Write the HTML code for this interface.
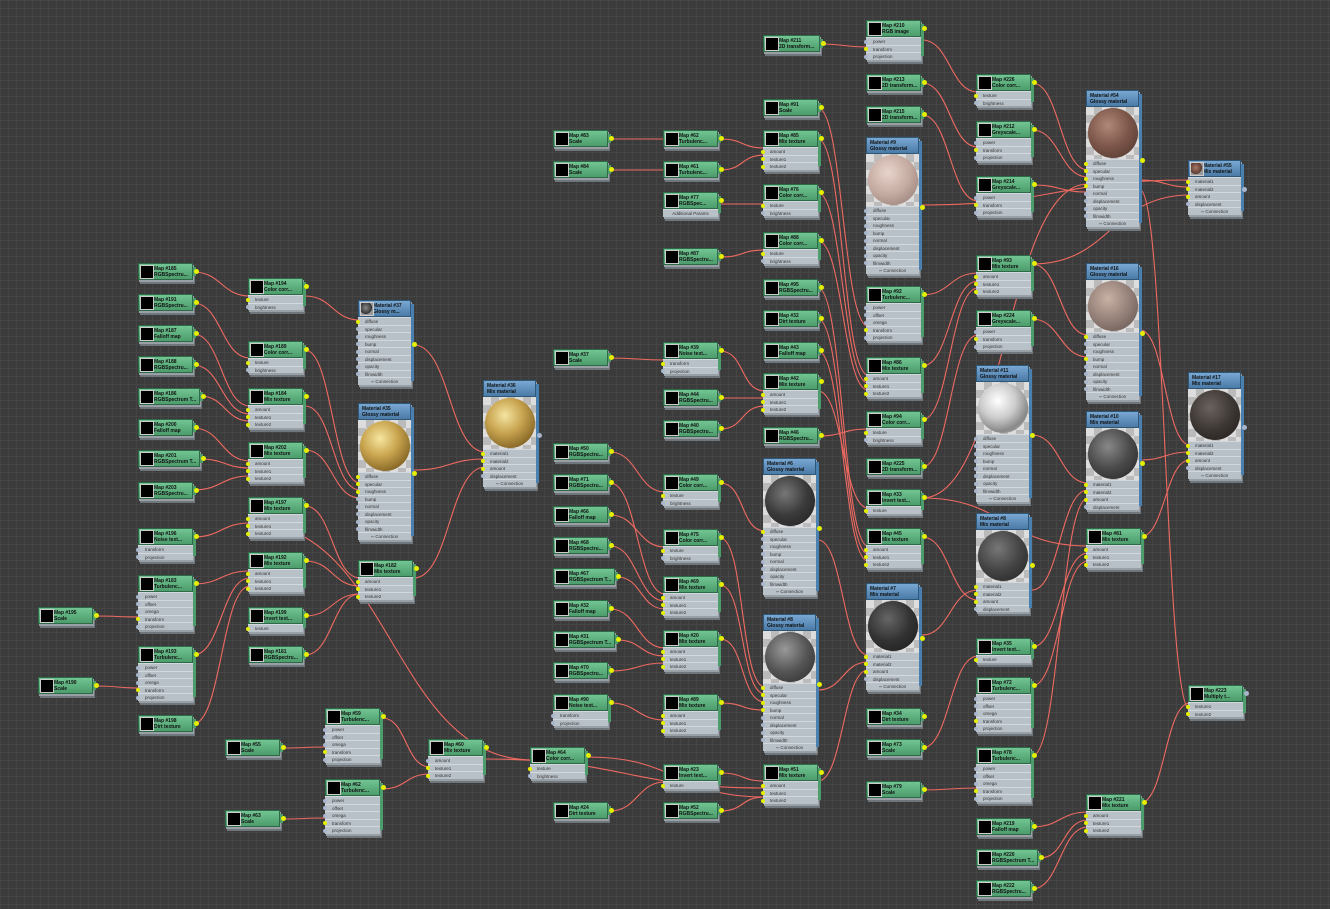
<!DOCTYPE html>
<html><head><meta charset="utf-8"><style>
body{margin:0;width:1330px;height:909px;overflow:hidden;background:#3b3b3b;background-image:linear-gradient(90deg,#454545 1px,transparent 1px),linear-gradient(#454545 1px,transparent 1px);background-size:8px 8px;position:relative}
.n{position:absolute;width:55px;font:bold 5px "Liberation Sans",sans-serif;color:#111;box-shadow:1px 2px 0 #98a0a6,2px 4px 0 #6f777d;background:#b9c1c8}
.n:after{content:"";position:absolute;right:-3px;top:4px;bottom:4px;width:3px;background:#4c9c6c}
.t:after{background:#4a80b0}
.h{height:17px;background:linear-gradient(#72c492,#4c9c6c);border:1px solid #2e6a48;box-sizing:border-box;position:relative;padding:2px 0 0 15px;line-height:6px;white-space:nowrap;overflow:hidden}
.h i{position:absolute;left:1px;top:1px;width:12px;height:12px;background:#000;border:1px solid #ccc}
.t{width:53px}
.t .h{background:linear-gradient(#78a8d2,#4a7aa6);border-color:#2f5878;padding-left:3px}
.t .h.ic{padding-left:14px}
.t .h.ic i{background:radial-gradient(circle at 40% 40%,#888,#333 60%,#999 62%)}
.n p{margin:0;height:7.5px;line-height:7px;border-top:1px solid #d2d8dd;box-sizing:border-box;padding-left:7px;font-weight:normal;font-size:4.5px;color:#333;position:relative}
.n p:before{content:"";position:absolute;left:-2px;top:1.5px;width:4px;height:4px;border-radius:50%;background:#a9b6cc}
.n p.y:before{background:#e4f000}
.n p.c{text-align:center;padding:0}.n p.c:before{display:none}
.n s{position:absolute;right:-6px;top:6px;width:5px;height:5px;border-radius:50%;background:#e4f000;z-index:2}
.t s{top:50%}
.pv{height:52px;background:#ddd;background-image:linear-gradient(45deg,#bbb 25%,transparent 25%,transparent 75%,#bbb 75%),linear-gradient(45deg,#bbb 25%,transparent 25%,transparent 75%,#bbb 75%);background-size:16px 16px;background-position:0 0,8px 8px;position:relative}
.pv b{position:absolute;left:2px;top:1px;width:50px;height:50px;border-radius:50%}
svg{position:absolute;left:0;top:0}
</style></head><body>
<svg width="1330" height="909" id="w"><g fill="none" stroke="#f06a62" stroke-width="1.1" id="g"></g></svg>

<!-- column A -->
<div class="n" style="left:38px;top:607px"><div class="h"><i></i>Map #195<br>Scale</div><s></s></div>
<div class="n" style="left:38px;top:677px"><div class="h"><i></i>Map #190<br>Scale</div><s></s></div>
<!-- column B -->
<div class="n" style="left:138px;top:263px"><div class="h"><i></i>Map #185<br>RGBSpectru...</div><s></s></div>
<div class="n" style="left:138px;top:294px"><div class="h"><i></i>Map #191<br>RGBSpectru...</div><s></s></div>
<div class="n" style="left:138px;top:325px"><div class="h"><i></i>Map #187<br>Falloff map</div><s></s></div>
<div class="n" style="left:138px;top:356px"><div class="h"><i></i>Map #188<br>RGBSpectru...</div><s></s></div>
<div class="n" style="left:138px;top:388px;width:62px"><div class="h"><i></i>Map #186<br>RGBSpectrum T...</div><s></s></div>
<div class="n" style="left:138px;top:419px"><div class="h"><i></i>Map #200<br>Falloff map</div><s></s></div>
<div class="n" style="left:138px;top:450px;width:62px"><div class="h"><i></i>Map #201<br>RGBSpectrum T...</div><s></s></div>
<div class="n" style="left:138px;top:482px"><div class="h"><i></i>Map #203<br>RGBSpectru...</div><s></s></div>
<div class="n" style="left:138px;top:528px"><div class="h"><i></i>Map #196<br>Noise text...</div><p>transform</p><p>projection</p><s></s></div>
<div class="n" style="left:138px;top:575px"><div class="h"><i></i>Map #183<br>Turbulenc...</div><p>power</p><p>offset</p><p>omega</p><p class="y">transform</p><p>projection</p><s></s></div>
<div class="n" style="left:138px;top:646px"><div class="h"><i></i>Map #193<br>Turbulenc...</div><p>power</p><p>offset</p><p>omega</p><p class="y">transform</p><p>projection</p><s></s></div>
<div class="n" style="left:138px;top:715px"><div class="h"><i></i>Map #198<br>Dirt texture</div><s></s></div>
<!-- column C -->
<div class="n" style="left:248px;top:278px"><div class="h"><i></i>Map #194<br>Color corr...</div><p class="y">texture</p><p>brightness</p><s></s></div>
<div class="n" style="left:248px;top:341px"><div class="h"><i></i>Map #189<br>Color corr...</div><p class="y">texture</p><p>brightness</p><s></s></div>
<div class="n" style="left:248px;top:388px"><div class="h"><i></i>Map #184<br>Mix texture</div><p class="y">amount</p><p class="y">texture1</p><p class="y">texture2</p><s></s></div>
<div class="n" style="left:248px;top:442px"><div class="h"><i></i>Map #202<br>Mix texture</div><p class="y">amount</p><p class="y">texture1</p><p class="y">texture2</p><s></s></div>
<div class="n" style="left:248px;top:497px"><div class="h"><i></i>Map #197<br>Mix texture</div><p class="y">amount</p><p class="y">texture1</p><p class="y">texture2</p><s></s></div>
<div class="n" style="left:248px;top:552px"><div class="h"><i></i>Map #192<br>Mix texture</div><p class="y">amount</p><p class="y">texture1</p><p class="y">texture2</p><s></s></div>
<div class="n" style="left:248px;top:607px"><div class="h"><i></i>Map #199<br>Invert text...</div><p class="y">texture</p><s></s></div>
<div class="n" style="left:248px;top:646px"><div class="h"><i></i>Map #181<br>RGBSpectru...</div><s></s></div>
<!-- column D -->
<div class="n t" style="left:358px;top:300px"><div class="h ic"><i></i>Material #37<br>Glossy m...</div><p class="y">diffuse</p><p>specular</p><p>roughness</p><p>bump</p><p>normal</p><p>displacement</p><p>opacity</p><p>filmwidth</p><p class="c">▫▫ Connection</p><s></s></div>
<div class="n t" style="left:358px;top:403px"><div class="h">Material #35<br>Glossy material</div><div class="pv"><b style="background:radial-gradient(circle at 40% 35%,#f6e6a0,#caa650 40%,#8a6a28 75%,#5a4418)"></b></div><p class="y">diffuse</p><p class="y">specular</p><p class="y">roughness</p><p>bump</p><p>normal</p><p>displacement</p><p>opacity</p><p>filmwidth</p><p class="c">▫▫ Connection</p><s></s></div>
<div class="n" style="left:358px;top:560px"><div class="h"><i></i>Map #182<br>Mix texture</div><p class="y">amount</p><p class="y">texture1</p><p class="y">texture2</p><s></s></div>
<!-- E -->
<div class="n t" style="left:483px;top:380px"><div class="h">Material #36<br>Mix material</div><div class="pv"><b style="background:radial-gradient(circle at 40% 35%,#f4e4a0,#c8a450 40%,#8a6a28 75%,#5a4418)"></b></div><p class="y">material1</p><p class="y">material2</p><p class="y">amount</p><p>displacement</p><p class="c">▫▫ Connection</p><s style="background:#a9b6cc"></s></div>
<!-- lower left -->
<div class="n" style="left:225px;top:739px"><div class="h"><i></i>Map #55<br>Scale</div><s></s></div>
<div class="n" style="left:225px;top:810px"><div class="h"><i></i>Map #63<br>Scale</div><s></s></div>
<div class="n" style="left:325px;top:708px"><div class="h"><i></i>Map #59<br>Turbulenc...</div><p>power</p><p>offset</p><p>omega</p><p class="y">transform</p><p>projection</p><s></s></div>
<div class="n" style="left:325px;top:779px"><div class="h"><i></i>Map #62<br>Turbulenc...</div><p>power</p><p>offset</p><p>omega</p><p class="y">transform</p><p>projection</p><s></s></div>
<div class="n" style="left:428px;top:739px"><div class="h"><i></i>Map #60<br>Mix texture</div><p>amount</p><p class="y">texture1</p><p class="y">texture2</p><s></s></div>
<div class="n" style="left:530px;top:747px"><div class="h"><i></i>Map #64<br>Color corr...</div><p class="y">texture</p><p>brightness</p><s></s></div>
<!-- F -->
<div class="n" style="left:553px;top:130px"><div class="h"><i></i>Map #83<br>Scale</div><s></s></div>
<div class="n" style="left:553px;top:161px"><div class="h"><i></i>Map #84<br>Scale</div><s></s></div>
<div class="n" style="left:553px;top:349px"><div class="h"><i></i>Map #37<br>Scale</div><s></s></div>
<div class="n" style="left:553px;top:443px"><div class="h"><i></i>Map #50<br>RGBSpectru...</div><s></s></div>
<div class="n" style="left:553px;top:474px"><div class="h"><i></i>Map #71<br>RGBSpectru...</div><s></s></div>
<div class="n" style="left:553px;top:506px"><div class="h"><i></i>Map #66<br>Falloff map</div><s></s></div>
<div class="n" style="left:553px;top:537px"><div class="h"><i></i>Map #68<br>RGBSpectru...</div><s></s></div>
<div class="n" style="left:553px;top:568px;width:62px"><div class="h"><i></i>Map #67<br>RGBSpectrum T...</div><s></s></div>
<div class="n" style="left:553px;top:600px"><div class="h"><i></i>Map #32<br>Falloff map</div><s></s></div>
<div class="n" style="left:553px;top:631px;width:62px"><div class="h"><i></i>Map #31<br>RGBSpectrum T...</div><s></s></div>
<div class="n" style="left:553px;top:662px"><div class="h"><i></i>Map #70<br>RGBSpectru...</div><s></s></div>
<div class="n" style="left:553px;top:694px"><div class="h"><i></i>Map #90<br>Noise text...</div><p>transform</p><p>projection</p><s></s></div>
<div class="n" style="left:553px;top:802px"><div class="h"><i></i>Map #24<br>Dirt texture</div><s></s></div>
<!-- G -->
<div class="n" style="left:663px;top:130px"><div class="h"><i></i>Map #62<br>Turbulenc...</div><s></s></div>
<div class="n" style="left:663px;top:161px"><div class="h"><i></i>Map #61<br>Turbulenc...</div><s></s></div>
<div class="n" style="left:663px;top:192px"><div class="h"><i></i>Map #77<br>RGBSpec...</div><p class="c">Additional Params</p><s></s></div>
<div class="n" style="left:663px;top:248px"><div class="h"><i></i>Map #87<br>RGBSpectru...</div><s></s></div>
<div class="n" style="left:663px;top:342px"><div class="h"><i></i>Map #39<br>Noise text...</div><p class="y">transform</p><p>projection</p><s></s></div>
<div class="n" style="left:663px;top:389px"><div class="h"><i></i>Map #44<br>RGBSpectru...</div><s></s></div>
<div class="n" style="left:663px;top:420px"><div class="h"><i></i>Map #40<br>RGBSpectru...</div><s></s></div>
<div class="n" style="left:663px;top:474px"><div class="h"><i></i>Map #49<br>Color corr...</div><p class="y">texture</p><p>brightness</p><s></s></div>
<div class="n" style="left:663px;top:529px"><div class="h"><i></i>Map #75<br>Color corr...</div><p class="y">texture</p><p>brightness</p><s></s></div>
<div class="n" style="left:663px;top:576px"><div class="h"><i></i>Map #69<br>Mix texture</div><p class="y">amount</p><p class="y">texture1</p><p class="y">texture2</p><s></s></div>
<div class="n" style="left:663px;top:630px"><div class="h"><i></i>Map #20<br>Mix texture</div><p class="y">amount</p><p class="y">texture1</p><p class="y">texture2</p><s></s></div>
<div class="n" style="left:663px;top:694px"><div class="h"><i></i>Map #89<br>Mix texture</div><p class="y">amount</p><p class="y">texture1</p><p class="y">texture2</p><s></s></div>
<div class="n" style="left:663px;top:764px"><div class="h"><i></i>Map #23<br>Invert text...</div><p class="y">texture</p><s></s></div>
<div class="n" style="left:663px;top:802px"><div class="h"><i></i>Map #52<br>RGBSpectru...</div><s></s></div>
<!-- H -->
<div class="n" style="left:763px;top:35px;width:57px"><div class="h"><i></i>Map #211<br>2D transform...</div><s></s></div>
<div class="n" style="left:763px;top:99px"><div class="h"><i></i>Map #91<br>Scale</div><s></s></div>
<div class="n" style="left:763px;top:130px"><div class="h"><i></i>Map #85<br>Mix texture</div><p class="y">amount</p><p class="y">texture1</p><p class="y">texture2</p><s></s></div>
<div class="n" style="left:763px;top:184px"><div class="h"><i></i>Map #76<br>Color corr...</div><p class="y">texture</p><p>brightness</p><s></s></div>
<div class="n" style="left:763px;top:232px"><div class="h"><i></i>Map #88<br>Color corr...</div><p class="y">texture</p><p>brightness</p><s></s></div>
<div class="n" style="left:763px;top:279px"><div class="h"><i></i>Map #95<br>RGBSpectru...</div><s></s></div>
<div class="n" style="left:763px;top:310px"><div class="h"><i></i>Map #32<br>Dirt texture</div><s></s></div>
<div class="n" style="left:763px;top:342px"><div class="h"><i></i>Map #43<br>Falloff map</div><s></s></div>
<div class="n" style="left:763px;top:373px"><div class="h"><i></i>Map #42<br>Mix texture</div><p class="y">amount</p><p class="y">texture1</p><p class="y">texture2</p><s></s></div>
<div class="n" style="left:763px;top:427px"><div class="h"><i></i>Map #46<br>RGBSpectru...</div><s></s></div>
<div class="n t" style="left:763px;top:458px"><div class="h">Material #6<br>Glossy material</div><div class="pv"><b style="background:radial-gradient(circle at 40% 35%,#777,#3a3a3a 50%,#1e1e1e)"></b></div><p class="y">diffuse</p><p>specular</p><p>roughness</p><p>bump</p><p>normal</p><p>displacement</p><p>opacity</p><p>filmwidth</p><p class="c">▫▫ Connection</p><s></s></div>
<div class="n t" style="left:763px;top:614px"><div class="h">Material #8<br>Glossy material</div><div class="pv"><b style="background:radial-gradient(circle at 40% 35%,#999,#555 50%,#2a2a2a)"></b></div><p class="y">diffuse</p><p class="y">specular</p><p class="y">roughness</p><p class="y">bump</p><p>normal</p><p>displacement</p><p>opacity</p><p>filmwidth</p><p class="c">▫▫ Connection</p><s></s></div>
<div class="n" style="left:763px;top:764px"><div class="h"><i></i>Map #51<br>Mix texture</div><p class="y">amount</p><p class="y">texture1</p><p class="y">texture2</p><s></s></div>
<!-- I -->
<div class="n" style="left:866px;top:20px"><div class="h"><i></i>Map #210<br>RGB image</div><p>power</p><p class="y">transform</p><p>projection</p><s></s></div>
<div class="n" style="left:866px;top:74px"><div class="h"><i></i>Map #213<br>2D transform...</div><s></s></div>
<div class="n" style="left:866px;top:106px"><div class="h"><i></i>Map #215<br>2D transform...</div><s></s></div>
<div class="n t" style="left:866px;top:137px"><div class="h">Material #9<br>Glossy material</div><div class="pv"><b style="background:radial-gradient(circle at 40% 35%,#e8d4cc,#c4aaa0 50%,#8a7670)"></b></div><p>diffuse</p><p>specular</p><p>roughness</p><p>bump</p><p>normal</p><p>displacement</p><p>opacity</p><p>filmwidth</p><p class="c">▫▫ Connection</p><s></s></div>
<div class="n" style="left:866px;top:286px"><div class="h"><i></i>Map #92<br>Turbulenc...</div><p>power</p><p>offset</p><p>omega</p><p class="y">transform</p><p>projection</p><s></s></div>
<div class="n" style="left:866px;top:357px"><div class="h"><i></i>Map #86<br>Mix texture</div><p class="y">amount</p><p class="y">texture1</p><p class="y">texture2</p><s></s></div>
<div class="n" style="left:866px;top:411px"><div class="h"><i></i>Map #94<br>Color corr...</div><p class="y">texture</p><p>brightness</p><s></s></div>
<div class="n" style="left:866px;top:458px"><div class="h"><i></i>Map #225<br>2D transform...</div><s></s></div>
<div class="n" style="left:866px;top:489px"><div class="h"><i></i>Map #33<br>Invert text...</div><p class="y">texture</p><s></s></div>
<div class="n" style="left:866px;top:528px"><div class="h"><i></i>Map #45<br>Mix texture</div><p class="y">amount</p><p class="y">texture1</p><p class="y">texture2</p><s></s></div>
<div class="n t" style="left:866px;top:583px"><div class="h">Material #7<br>Mix material</div><div class="pv"><b style="background:radial-gradient(circle at 40% 35%,#666,#333 50%,#1a1a1a)"></b></div><p class="y">material1</p><p class="y">material2</p><p class="y">amount</p><p>displacement</p><p class="c">▫▫ Connection</p><s></s></div>
<div class="n" style="left:866px;top:708px"><div class="h"><i></i>Map #34<br>Dirt texture</div><s></s></div>
<div class="n" style="left:866px;top:739px"><div class="h"><i></i>Map #73<br>Scale</div><s></s></div>
<div class="n" style="left:866px;top:781px"><div class="h"><i></i>Map #79<br>Scale</div><s></s></div>
<!-- J -->
<div class="n" style="left:976px;top:74px"><div class="h"><i></i>Map #226<br>Color corr...</div><p class="y">texture</p><p>brightness</p><s></s></div>
<div class="n" style="left:976px;top:121px"><div class="h"><i></i>Map #212<br>Greyscale...</div><p>power</p><p class="y">transform</p><p>projection</p><s></s></div>
<div class="n" style="left:976px;top:176px"><div class="h"><i></i>Map #214<br>Greyscale...</div><p>power</p><p class="y">transform</p><p>projection</p><s></s></div>
<div class="n" style="left:976px;top:255px"><div class="h"><i></i>Map #93<br>Mix texture</div><p class="y">amount</p><p class="y">texture1</p><p class="y">texture2</p><s></s></div>
<div class="n" style="left:976px;top:310px"><div class="h"><i></i>Map #224<br>Greyscale...</div><p>power</p><p class="y">transform</p><p>projection</p><s></s></div>
<div class="n t" style="left:976px;top:365px"><div class="h">Material #11<br>Glossy material</div><div class="pv"><b style="background:radial-gradient(circle at 40% 35%,#fff,#ccc 40%,#888 70%,#ddd)"></b></div><p>diffuse</p><p>specular</p><p>roughness</p><p>bump</p><p>normal</p><p>displacement</p><p>opacity</p><p>filmwidth</p><p class="c">▫▫ Connection</p><s></s></div>
<div class="n t" style="left:976px;top:513px"><div class="h">Material #8<br>Mix material</div><div class="pv"><b style="background:radial-gradient(circle at 40% 35%,#777,#444 50%,#222)"></b></div><p class="y">material1</p><p class="y">material2</p><p class="y">amount</p><p>displacement</p><s></s></div>
<div class="n" style="left:976px;top:638px"><div class="h"><i></i>Map #35<br>Invert text...</div><p class="y">texture</p><s></s></div>
<div class="n" style="left:976px;top:677px"><div class="h"><i></i>Map #72<br>Turbulenc...</div><p>power</p><p>offset</p><p>omega</p><p class="y">transform</p><p>projection</p><s></s></div>
<div class="n" style="left:976px;top:747px"><div class="h"><i></i>Map #78<br>Turbulenc...</div><p>power</p><p>offset</p><p>omega</p><p class="y">transform</p><p>projection</p><s></s></div>
<div class="n" style="left:976px;top:818px"><div class="h"><i></i>Map #219<br>Falloff map</div><s></s></div>
<div class="n" style="left:976px;top:849px;width:62px"><div class="h"><i></i>Map #220<br>RGBSpectrum T...</div><s></s></div>
<div class="n" style="left:976px;top:880px"><div class="h"><i></i>Map #222<br>RGBSpectru...</div><s></s></div>
<!-- K -->
<div class="n t" style="left:1086px;top:90px"><div class="h">Material #54<br>Glossy material</div><div class="pv"><b style="background:radial-gradient(circle at 40% 35%,#b08878,#7a5448 50%,#4a342c)"></b></div><p class="y">diffuse</p><p class="y">specular</p><p class="y">roughness</p><p class="y">bump</p><p>normal</p><p>displacement</p><p>opacity</p><p>filmwidth</p><p class="c">▫▫ Connection</p><s></s></div>
<div class="n t" style="left:1086px;top:263px"><div class="h">Material #16<br>Glossy material</div><div class="pv"><b style="background:radial-gradient(circle at 40% 35%,#c8b0a4,#948078 50%,#5e504a)"></b></div><p class="y">diffuse</p><p>specular</p><p>roughness</p><p class="y">bump</p><p>normal</p><p>displacement</p><p>opacity</p><p>filmwidth</p><p class="c">▫▫ Connection</p><s></s></div>
<div class="n t" style="left:1086px;top:411px"><div class="h">Material #10<br>Mix material</div><div class="pv"><b style="background:radial-gradient(circle at 40% 35%,#888,#4a4a4a 50%,#222)"></b></div><p class="y">material1</p><p class="y">material2</p><p class="y">amount</p><p>displacement</p><s></s></div>
<div class="n" style="left:1086px;top:528px"><div class="h"><i></i>Map #81<br>Mix texture</div><p class="y">amount</p><p class="y">texture1</p><p class="y">texture2</p><s></s></div>
<div class="n" style="left:1086px;top:794px"><div class="h"><i></i>Map #221<br>Mix texture</div><p class="y">amount</p><p class="y">texture1</p><p class="y">texture2</p><s></s></div>
<!-- L -->
<div class="n t" style="left:1188px;top:160px"><div class="h ic"><i style="background:radial-gradient(circle at 40% 40%,#a87868,#5a3a30 60%,#999 62%)"></i>Material #55<br>Mix material</div><p class="y">material1</p><p class="y">material2</p><p class="y">amount</p><p>displacement</p><p class="c">▫▫ Connection</p><s style="background:#a9b6cc"></s></div>
<div class="n t" style="left:1188px;top:372px"><div class="h">Material #17<br>Mix material</div><div class="pv"><b style="background:radial-gradient(circle at 40% 35%,#6a625e,#3e3834 50%,#1e1a18)"></b></div><p class="y">material1</p><p class="y">material2</p><p class="y">amount</p><p>displacement</p><p class="c">▫▫ Connection</p><s style="background:#a9b6cc"></s></div>
<div class="n" style="left:1188px;top:685px"><div class="h"><i></i>Map #223<br>Multiply t...</div><p class="y">texture1</p><p class="y">texture2</p><s style="background:#a9b6cc"></s></div>

<script>
var W=[[193,272,250,296],[193,303,250,358],[193,334,250,406],[193,365,250,414],[200,396,250,421],[193,428,250,461],[200,459,250,468],[193,490,250,476],[193,537,250,523],[193,584,250,571],[193,655,250,578],[193,724,250,586],[95,616,140,617],[95,686,140,688],
[305,296,360,320],[305,350,360,483],[305,406,360,490],[305,450,360,498],[305,506,360,578],[305,561,360,586],[305,616,360,594],[305,655,360,594],[250,523,533,760],
[414,345,485,452],[414,470,485,459],[414,578,485,467],[282,748,327,747],[282,819,327,818],[382,718,430,767],[382,789,430,774],[486,759,765,788],[588,757,765,797],
[610,139,665,139],[610,170,665,170],[720,139,765,148],[720,170,765,155],[720,204,765,204],[720,257,765,250],[610,358,665,360],[720,351,765,391],[720,398,765,398],[720,429,765,406],
[610,452,665,492],[610,483,665,594],[610,515,665,547],[610,546,665,601],[617,577,665,609],[610,609,665,648],[617,640,665,656],[610,671,665,663],[610,703,665,720],[610,811,665,782],
[720,483,765,531],[720,538,765,687],[720,585,765,694],[720,639,765,702],[720,703,765,710],[720,773,765,781],[720,811,765,797],[818,540,868,655],[818,690,868,662],[818,781,868,670],
[818,139,868,375],[818,193,868,383],[818,241,868,390],[818,288,868,546],[818,319,868,554],[818,351,868,561],[818,391,868,508],[818,436,868,429],[818,108,868,326],[820,44,868,47],
[922,40,978,92],[922,83,978,147],[922,115,978,201],[1032,83,1088,170],[1032,130,1088,177],[1032,185,1088,192],[922,205,1190,180],[1140,180,1190,187],[922,295,978,273],[922,366,978,281],[922,420,978,288],[922,467,978,335],[922,498,1088,546],[922,537,978,600],[922,635,978,590],
[1032,264,1088,335],[1032,319,1088,357],[1032,435,1088,483],[1032,590,1088,490],[1032,647,1088,553],[1032,686,1088,561],[1032,756,1088,498],[1140,330,1190,445],[1140,460,1190,452],[1140,537,1190,460],[1032,827,1088,812],[1040,858,1088,820],[1032,889,1088,827],[1140,803,1190,703],[922,748,978,656],[922,790,978,788],[1140,190,1190,710],[1032,264,1190,195],[922,498,1088,184]];
var g=document.getElementById('g'),s='';
W.forEach(function(a){var d=Math.max(25,(a[2]-a[0])*0.5);s+='<path d="M'+a[0]+' '+a[1]+'C'+(a[0]+d)+' '+a[1]+' '+(a[2]-d)+' '+a[3]+' '+a[2]+' '+a[3]+'"/>';});
g.innerHTML=s;
</script>
</body></html>
